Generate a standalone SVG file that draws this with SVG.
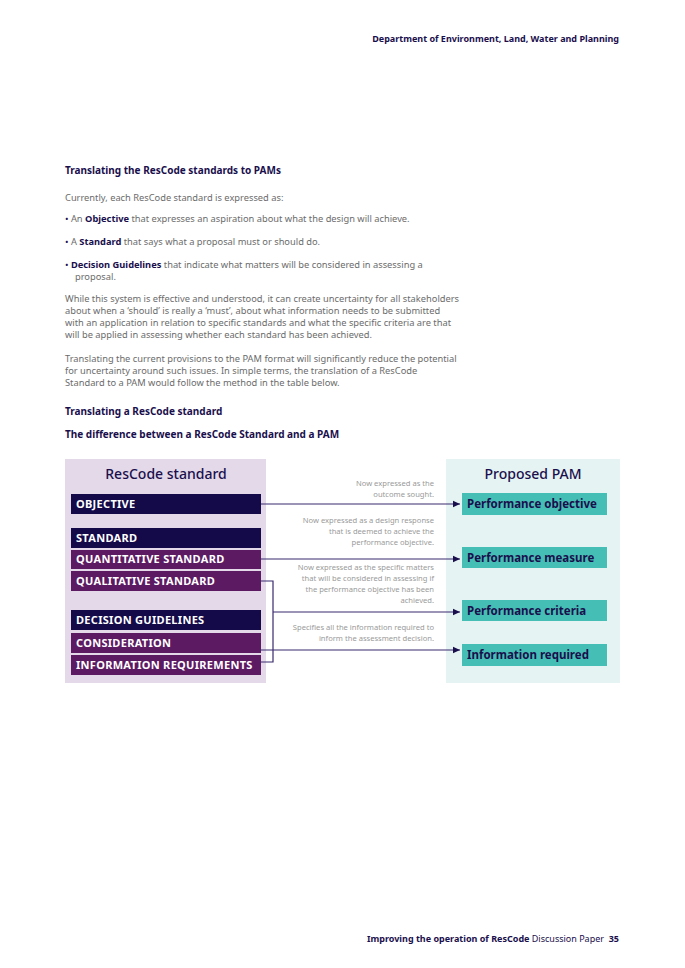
<svg xmlns="http://www.w3.org/2000/svg" width="685" height="968" viewBox="0 0 685 968">
<style>
.t{font-family:"Noto Sans","Liberation Sans",sans-serif}
.h{font-family:"Noto Sans","Liberation Sans",sans-serif;font-weight:bold;fill:#1a0f4d;font-size:10px}
.p{font-family:"Noto Sans","Liberation Sans",sans-serif;fill:#6b6b6b;font-size:9.3px}
.lb{font-family:"Noto Sans","Liberation Sans",sans-serif;font-weight:bold;fill:#fff;font-size:11px;letter-spacing:0.3px}
.rb{font-family:"Noto Sans","Liberation Sans",sans-serif;font-weight:bold;fill:#1a0f4d;font-size:11.5px}
.n{font-family:"Noto Sans","Liberation Sans",sans-serif;fill:#9a9a9a;font-size:7.6px}
.navy{fill:#140a4a}.pur{fill:#5c1a63}.teal{fill:#45bfb5}
.c{stroke:#3a2a6e;stroke-width:1.2;fill:none}
</style>
<defs><marker id="a" markerWidth="8" markerHeight="8" refX="7" refY="4" orient="auto" markerUnits="userSpaceOnUse"><path d="M0,0.8 L7,4 L0,7.2z" fill="#1a0f4d"/></marker></defs>
<rect width="685" height="968" fill="#fff"/>
<text x="619" y="42" text-anchor="end" class="t" font-size="9" font-weight="bold" fill="#1a0f4d">Department of Environment, Land, Water and Planning</text>
<text x="65" y="174" class="h">Translating the ResCode standards to PAMs</text>
<text x="65" y="201" class="p">Currently, each ResCode standard is expressed as:</text>
<text x="65" y="222" class="p"><tspan fill="#1a0f4d">•</tspan> An <tspan font-weight="bold" fill="#1a0f4d">Objective</tspan> that expresses an aspiration about what the design will achieve.</text>
<text x="65" y="245" class="p"><tspan fill="#1a0f4d">•</tspan> A <tspan font-weight="bold" fill="#1a0f4d">Standard</tspan> that says what a proposal must or should do.</text>
<text x="65" y="268" class="p"><tspan fill="#1a0f4d">•</tspan> <tspan font-weight="bold" fill="#1a0f4d">Decision Guidelines</tspan> that indicate what matters will be considered in assessing a</text>
<text x="75" y="280" class="p">proposal.</text>
<text class="p"><tspan x="65" y="302">While this system is effective and understood, it can create uncertainty for all stakeholders</tspan><tspan x="65" y="314">about when a ‘should’ is really a ‘must’, about what information needs to be submitted</tspan><tspan x="65" y="326">with an application in relation to specific standards and what the specific criteria are that</tspan><tspan x="65" y="338">will be applied in assessing whether each standard has been achieved.</tspan></text>
<text class="p"><tspan x="65" y="362">Translating the current provisions to the PAM format will significantly reduce the potential</tspan><tspan x="65" y="374">for uncertainty around such issues.  In simple terms, the translation of a ResCode</tspan><tspan x="65" y="386">Standard to a PAM would follow the method in the table below.</tspan></text>
<text x="65" y="415" class="h">Translating a ResCode standard</text>
<text x="65" y="438" class="h">The difference between a ResCode Standard and a PAM</text>

<rect x="65" y="459" width="201" height="224" fill="#e3d9e8"/>
<rect x="446" y="459" width="174" height="224" fill="#e6f3f3"/>
<text x="166" y="479" text-anchor="middle" class="t" font-size="14" fill="#1a0f4d" font-weight="500">ResCode standard</text>
<text x="533" y="479" text-anchor="middle" class="t" font-size="14" fill="#1a0f4d" font-weight="500">Proposed PAM</text>

<g id="objective"><rect class="navy" x="71" y="494" width="190" height="20"/><text class="lb" x="76" y="508">OBJECTIVE</text></g>
<g id="standard"><rect class="navy" x="71" y="528" width="190" height="20"/><text class="lb" x="76" y="542">STANDARD</text></g>
<g id="quantitative"><rect class="pur" x="71" y="550" width="190" height="19"/><text class="lb" x="76" y="563">QUANTITATIVE STANDARD</text></g>
<g id="qualitative"><rect class="pur" x="71" y="571" width="190" height="20"/><text class="lb" x="76" y="585">QUALITATIVE STANDARD</text></g>
<g id="decision"><rect class="navy" x="71" y="610" width="190" height="20"/><text class="lb" x="76" y="624">DECISION GUIDELINES</text></g>
<g id="consideration"><rect class="pur" x="71" y="633" width="190" height="20"/><text class="lb" x="76" y="647">CONSIDERATION</text></g>
<g id="inforeq"><rect class="pur" x="71" y="655" width="190" height="20"/><text class="lb" x="76" y="669">INFORMATION REQUIREMENTS</text></g>

<g id="perfobj"><rect class="teal" x="462" y="493" width="145" height="22"/><text class="rb" x="467" y="508">Performance objective</text></g>
<g id="perfmeasure"><rect class="teal" x="462" y="547" width="145" height="21"/><text class="rb" x="467" y="562">Performance measure</text></g>
<g id="perfcriteria"><rect class="teal" x="462" y="600" width="145" height="21"/><text class="rb" x="467" y="615">Performance criteria</text></g>
<g id="inforequired"><rect class="teal" x="462" y="644" width="145" height="22"/><text class="rb" x="467" y="659">Information required</text></g>

<g id="connectors">
<path class="c" d="M261,504 H460" marker-end="url(#a)"/>
<path class="c" d="M261,559 H460" marker-end="url(#a)"/>
<path class="c" d="M261,581 H273 V662 H261"/>
<path class="c" d="M273,612 H460" marker-end="url(#a)"/>
<path class="c" d="M260,650 H460" marker-end="url(#a)"/>
</g>
<g id="notes" class="n" text-anchor="end">
<text x="434" y="486">Now expressed as the</text><text x="434" y="497">outcome sought.</text>
<text x="434" y="523">Now expressed as a design response</text><text x="434" y="534">that is deemed to achieve the</text><text x="434" y="545">performance objective.</text>
<text x="434" y="570">Now expressed as the specific matters</text><text x="434" y="581">that will be considered in assessing if</text><text x="434" y="592">the performance objective has been</text><text x="434" y="603">achieved.</text>
<text x="434" y="630">Specifies all the information required to</text><text x="434" y="641">inform the assessment decision.</text>
</g>
<text x="604" y="942" text-anchor="end" class="t" font-size="9" fill="#1a0f4d"><tspan font-weight="bold">Improving the operation of ResCode</tspan> Discussion Paper</text>
<text x="619" y="942" text-anchor="end" class="t" font-size="9" font-weight="bold" fill="#1a0f4d">35</text>
</svg>
